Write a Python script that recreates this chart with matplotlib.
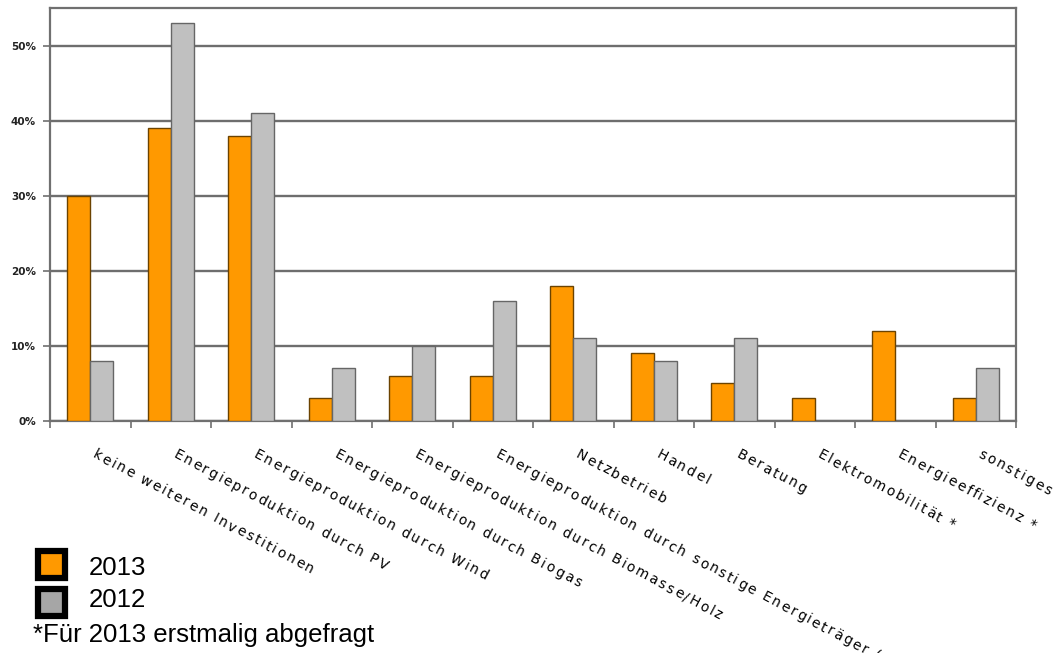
import matplotlib
matplotlib.use("Agg")
import matplotlib.pyplot as plt
import numpy as np
from matplotlib.patches import Rectangle
from matplotlib.ticker import FuncFormatter, FixedLocator
from matplotlib.font_manager import FontProperties, findfont
from matplotlib.ft2font import FT2Font

plt.rcParams['font.family'] = ['Liberation Sans', 'DejaVu Sans']

categories = [
    "keine weiteren Investitionen",
    "Energieproduktion durch PV",
    "Energieproduktion durch Wind",
    "Energieproduktion durch Biogas",
    "Energieproduktion durch Biomasse/Holz",
    "Energieproduktion durch sonstige Energieträger (*)",
    "Netzbetrieb",
    "Handel",
    "Beratung",
    "Elektromobilität *",
    "Energieeffizienz *",
    "sonstiges",
]
values_2013 = [30, 39, 38, 3, 6, 6, 18, 9, 5, 3, 12, 3]
values_2012 = [8, 53, 41, 7, 10, 16, 11, 8, 11, 0, 0, 7]
y_ticks = [0, 10, 20, 30, 40, 50]

orange = "#FF9900"
grey = "#C0C0C0"

fig = plt.figure(figsize=(10.62, 6.53), dpi=100)
ax = fig.add_axes([50 / 1062, 1 - 421 / 653, 966 / 1062, 413 / 653])

x = np.arange(len(categories))
w = 0.285
ax.bar(x - w / 2, values_2013, w, color=orange, edgecolor="#6b4300", linewidth=1.0, zorder=3)
ax.bar(x + w / 2, values_2012, w, color=grey, edgecolor="#666666", linewidth=1.0, zorder=3)

ax.set_xlim(-0.5, len(categories) - 0.5)
ax.set_ylim(0, 55)
ax.yaxis.set_major_locator(FixedLocator(y_ticks))
ax.yaxis.set_major_formatter(FuncFormatter(lambda v, p: f"{int(v)}%"))
ax.grid(axis="y", color="#6e6e6e", linewidth=1.7, zorder=0)
for s in ax.spines.values():
    s.set_color("#707070")
    s.set_linewidth(1.6)

ax.tick_params(axis="y", length=5, width=1.2, color="#707070", labelsize=7.5, pad=5)
for lbl in ax.get_yticklabels():
    lbl.set_fontweight("bold")
    lbl.set_family("DejaVu Sans")
    lbl.set_color("#222222")

# boundary ticks between categories
ax.set_xticks(np.arange(len(categories) + 1) - 0.5)
ax.set_xticklabels([])
ax.tick_params(axis="x", length=5, width=1.2, color="#707070", direction="out")

# rotated, letter-spaced category labels (placed glyph by glyph)
label_size = 10.0
tracking = 1.35  # extra points between glyphs
angle = 28.0
prop = FontProperties(family="DejaVu Sans", size=label_size)
ft = FT2Font(findfont(prop))
ft.set_size(label_size, 72)
cos_a, sin_a = np.cos(np.radians(angle)), np.sin(np.radians(angle))

for i, name in enumerate(categories):
    dist = 0.0
    for ch in name:
        if ch != " ":
            ax.annotate(ch, xy=(i, 0), xycoords=("data", "axes fraction"),
                        xytext=(1.0 + dist * cos_a, -26.0 - dist * sin_a),
                        textcoords="offset points",
                        rotation=-angle, rotation_mode="anchor",
                        ha="left", va="baseline", fontproperties=prop,
                        color="black", annotation_clip=False)
        glyph = ft.load_char(ord(ch))
        dist += glyph.linearHoriAdvance / 65536.0 + tracking

# legend boxes
def legend_box(y0, fill):
    fig.add_artist(Rectangle((38 / 1062, 1 - (y0 + 30) / 653), 27 / 1062, 27 / 653,
                             transform=fig.transFigure, facecolor=fill,
                             edgecolor="black", linewidth=4.5))

legend_box(548, orange)
legend_box(586, "#A6A6A6")
fig.text(89 / 1062, 1 - 575 / 653, "2013", fontsize=18.5, va="baseline", ha="left")
fig.text(89 / 1062, 1 - 607 / 653, "2012", fontsize=18.5, va="baseline", ha="left")
fig.text(33 / 1062, 1 - 642 / 653, "*Für 2013 erstmalig abgefragt", fontsize=18.5,
         va="baseline", ha="left")

fig.savefig("out.png", dpi=100)
